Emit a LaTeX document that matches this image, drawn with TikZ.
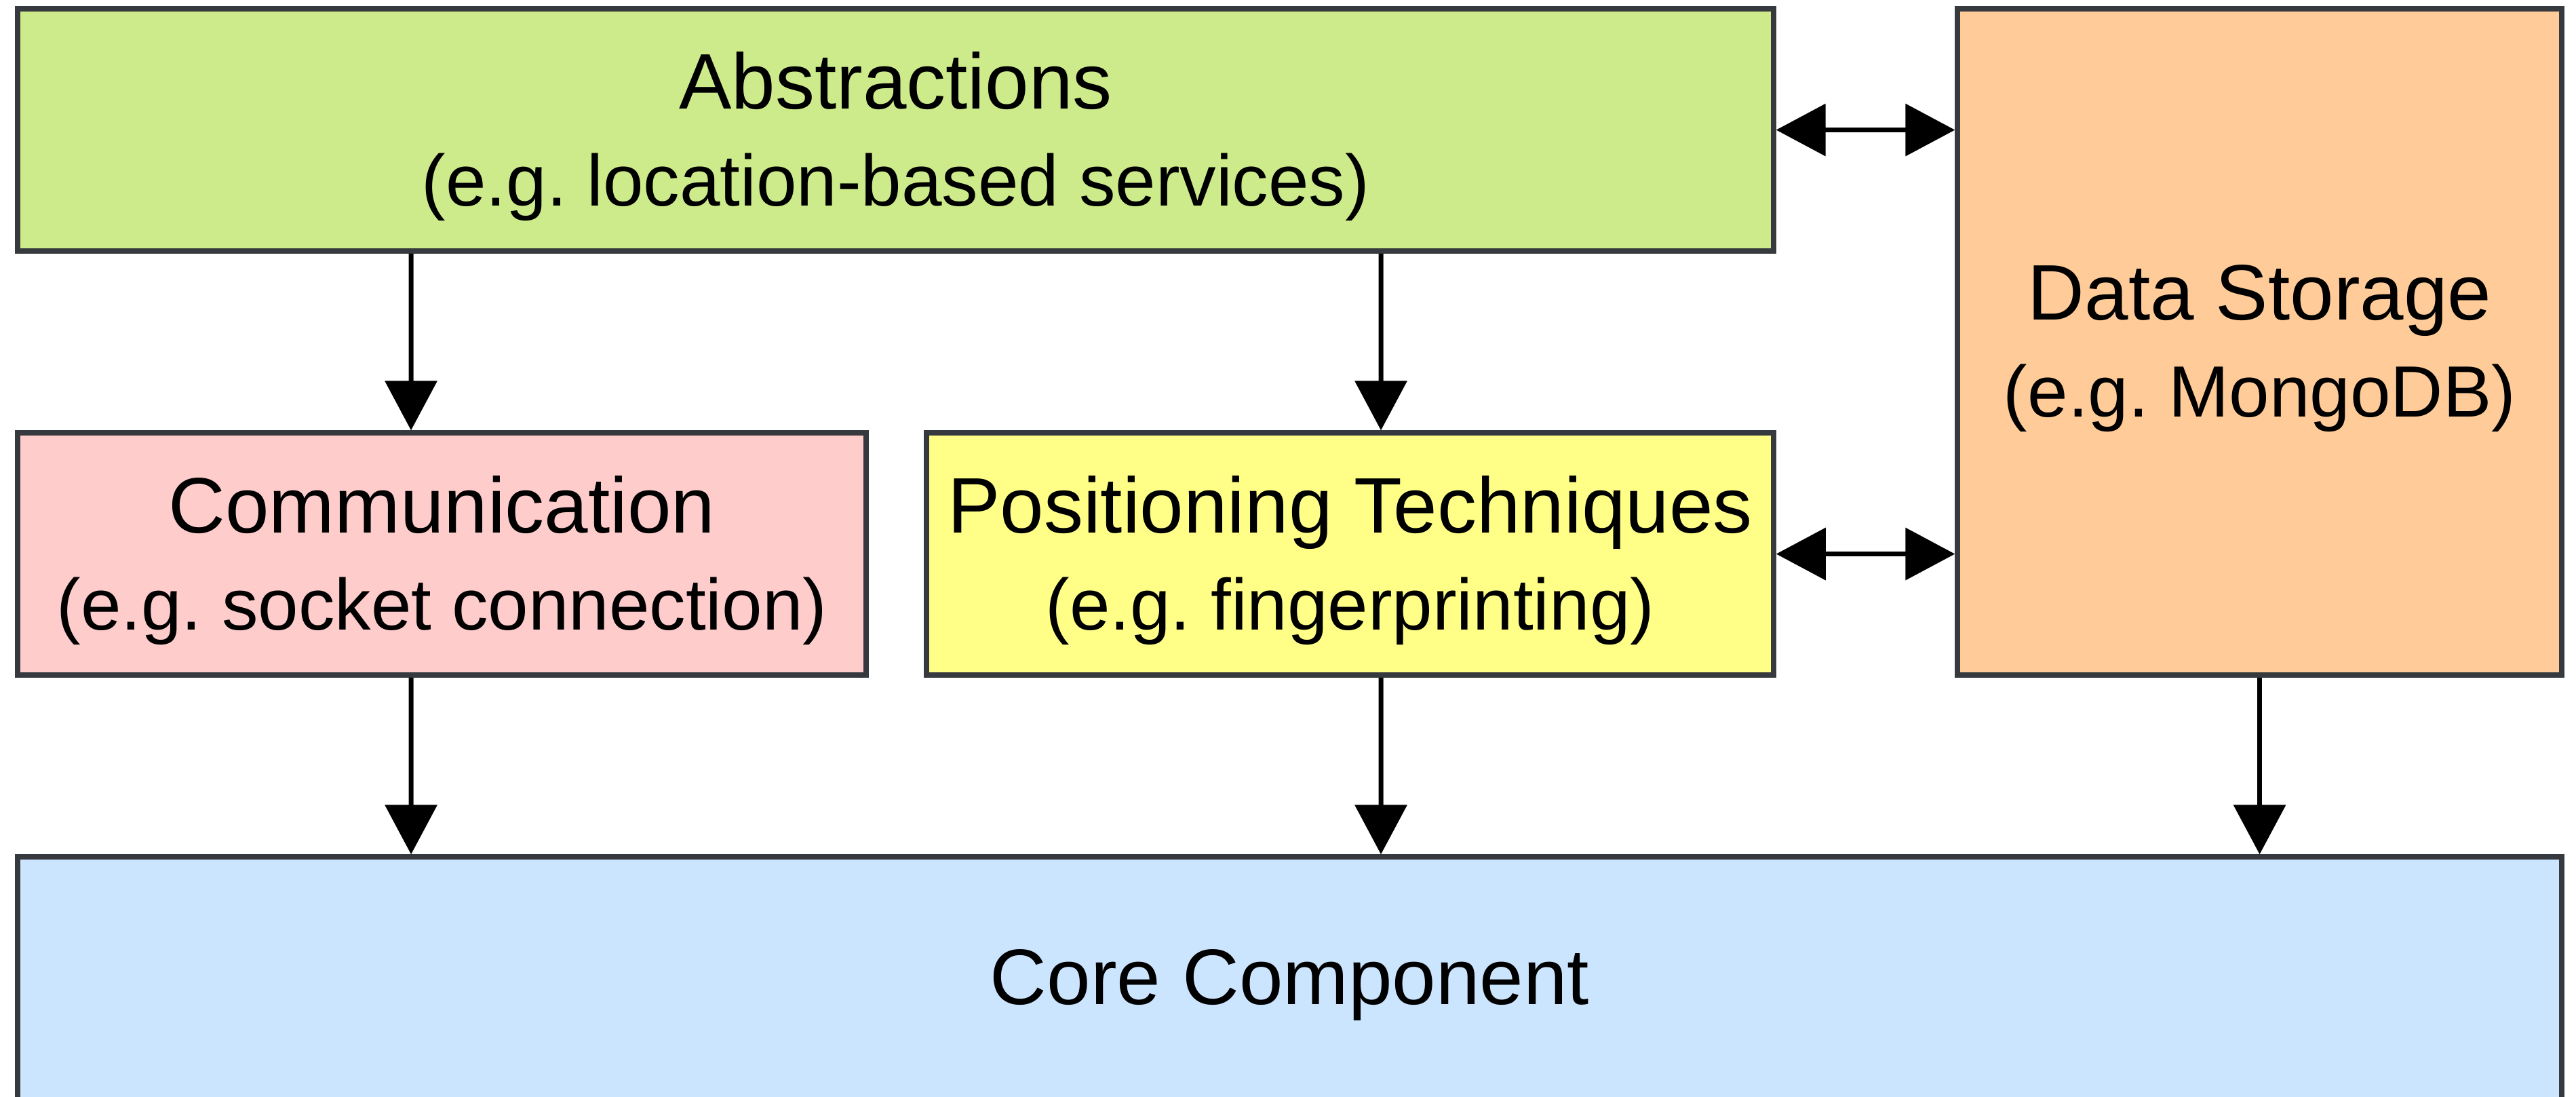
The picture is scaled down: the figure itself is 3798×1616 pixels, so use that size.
\documentclass[tikz,border=0pt]{standalone}
\usepackage{fontspec}
\setmainfont{Liberation Sans}
\usetikzlibrary{arrows.meta}
\frenchspacing

\definecolor{edgegray}{HTML}{36393D}
\definecolor{absgreen}{HTML}{CDEB8B}
\definecolor{commpink}{HTML}{FFCCCC}
\definecolor{posyellow}{HTML}{FFFF88}
\definecolor{dsorange}{HTML}{FFCC99}
\definecolor{coreblue}{HTML}{CCE5FF}

% smaller second line with the example
\newcommand{\exline}[1]{{\fontsize{10.7pt}{14.3pt}\selectfont #1}}

\tikzset{
  box/.style={draw=edgegray, line width=0.75pt, rectangle, inner sep=0pt},
  lbl/.style={align=center, inner sep=0pt, yshift=-1pt,
              font=\fontsize{11.6pt}{14.3pt}\selectfont\frenchspacing},
  arr/.style={line width=0.7pt, -{Triangle[length=7.3pt,width=7.6pt]}},
  dblarr/.style={line width=0.7pt,
     {Triangle[length=7.3pt,width=7.6pt]}-{Triangle[length=7.3pt,width=7.6pt]}}
}

\begin{document}
\begin{tikzpicture}[x=0.1pt, y=-0.1pt]
  \useasboundingbox (0,0) rectangle (3798,1616);

  % boxes
  \node[box, fill=absgreen,  minimum width=258.9pt, minimum height=35.7pt] (abs)  at (1320.5,191.5) {};
  \node[box, fill=commpink,  minimum width=125.1pt, minimum height=35.7pt] (comm) at (651.5,816.5) {};
  \node[box, fill=posyellow, minimum width=124.9pt, minimum height=35.7pt] (pos)  at (1990.5,816.5) {};
  \node[box, fill=dsorange,  minimum width=89.1pt,  minimum height=98.2pt] (ds)   at (3331.5,504) {};
  \node[box, fill=coreblue,  minimum width=375.1pt, minimum height=35.8pt] (core) at (1901.5,1442) {};

  % box texts
  \node[lbl] (abs-t)  at (abs.center)  {Abstractions\\\exline{(e.g. location-based services)}};
  \node[lbl] (comm-t) at (comm.center) {Communication\\\exline{(e.g. socket connection)}};
  \node[lbl] (pos-t)  at (pos.center)  {Positioning Techniques\\\exline{(e.g. fingerprinting)}};
  \node[lbl] (ds-t)   at (ds.center)   {Data Storage\\\exline{(e.g. MongoDB)}};
  \node[lbl] (core-t) at (core.center) {Core Component};

  % downward connectors
  \draw[arr] ([xshift=-71.45pt]abs.south) -- ([xshift=-4.55pt]comm.north);
  \draw[arr] ([xshift=71.55pt]abs.south)  -- ([xshift=4.55pt]pos.north);
  \draw[arr] ([xshift=-4.55pt]comm.south) -- ([xshift=-129.55pt]core.north);
  \draw[arr] ([xshift=4.55pt]pos.south)   -- ([xshift=13.45pt]core.north);
  \draw[arr] (ds.south) -- (ds.south |- core.north);

  % links to the data storage
  \draw[dblarr] (abs.east) -- (abs.east -| ds.west);
  \draw[dblarr] (pos.east) -- (pos.east -| ds.west);
\end{tikzpicture}
\end{document}
